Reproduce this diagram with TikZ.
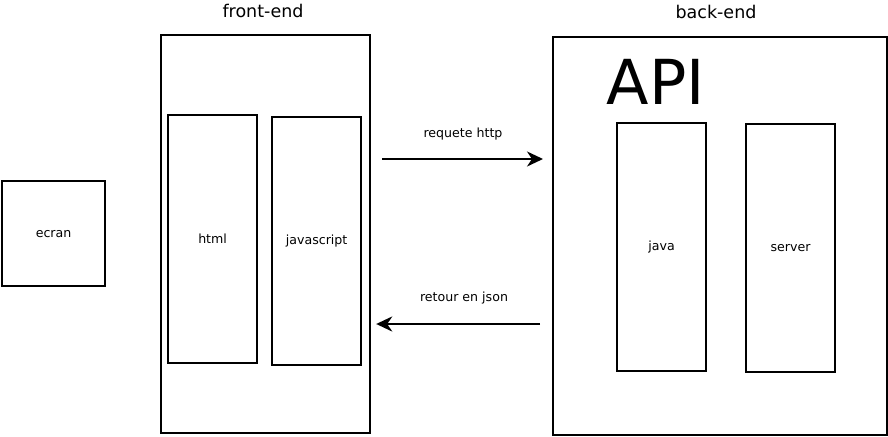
\documentclass[tikz,border=0pt]{standalone}
\usepackage{fontspec}
\setmainfont{DejaVu Sans}
\usetikzlibrary{calc,arrows.meta}

\begin{document}
\begin{tikzpicture}[x=1pt,y=-1pt,>={Stealth[length=16pt,width=15pt,inset=5pt]},line width=2.2pt,
    box/.style={draw,inner sep=0,anchor=north west},
    small/.style={font=\fontsize{12.6}{14}\selectfont},
    title/.style={font=\fontsize{17.5}{20}\selectfont}]
        \useasboundingbox[fill=white] (0,0) rectangle (888,436);
        % front-end side
        \node[box,minimum width=209pt,minimum height=398pt] (front) at (160,34) {};
        \node[box,minimum width=89pt,minimum height=248pt,small] (html) at (167,114) {html};
        \node[box,minimum width=89pt,minimum height=248pt,small] (js) at (271,116) {javascript};
        \node[title] (fronttitle) at (263,11) {front-end};
        \node[box,minimum width=103pt,minimum height=105pt,small] (ecran) at (1,180) {ecran};
        % back-end side
        \node[box,minimum width=334pt,minimum height=398pt] (back) at (552,36) {};
        \node[title] (backtitle) at (716,12) {back-end};
        \node[font=\fontsize{62}{64}\selectfont] (api) at (656,82) {API};
        \node[box,minimum width=89pt,minimum height=248pt,small] (java) at (616,122) {java};
        \node[box,minimum width=89pt,minimum height=248pt,small] (server) at (745,123) {server};
        % requests
        \coordinate (req) at (0,159);
        \coordinate (ret) at (0,324);
        \draw[->,shorten <=11pt,shorten >=9pt] (front.east |- req) -- (back.west |- req);
        \draw[->,shorten <=12pt,shorten >=5pt] (back.west |- ret) -- (front.east |- ret);
        \node[small] (reqlabel) at (463,134) {requete http};
        \node[small] (retlabel) at (464,298) {retour en json};
    \end{tikzpicture}
\end{document}
